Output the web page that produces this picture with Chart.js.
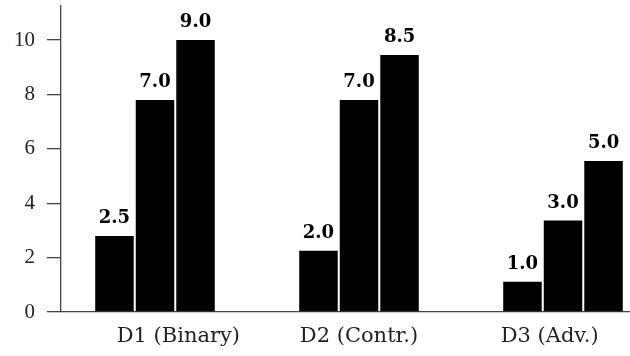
<!DOCTYPE html>
<html>
<head>
<meta charset="utf-8">
<script src="https://cdn.jsdelivr.net/npm/chart.js@4/dist/chart.umd.min.js"></script>
<style>
html,body{margin:0;padding:0;background:#fff;}
#wrap{width:630px;height:356px;position:relative;}
</style>
</head>
<body>
<div id="wrap"><canvas id="c" width="630" height="356"></canvas></div>
<script>
// Categories and tick labels
const categories = ["D1 (Binary)", "D2 (Contr.)", "D3 (Adv.)"];
const categoryTickLabels = ["       D1 (Binary)", "D2 (Contr.)", "D3 (Adv.)    "];
const yTicks = [0, 2, 4, 6, 8, 10];

// Bar heights as drawn
const barsFirst  = [2.79, 2.25, 1.11];
const barsSecond = [7.79, 7.79, 3.36];
const barsThird  = [10.0, 9.45, 5.55];

// Value annotations printed above the bars
const labelsFirst  = ["2.5", "2.0", "1.0"];
const labelsSecond = ["7.0", "7.0", "3.0"];
const labelsThird  = ["9.0", "8.5", "5.0"];

const toPoints = arr => arr.map((v, i) => ({x: i, y: v}));

const valueLabelPlugin = {
  id: 'valueLabels',
  afterDatasetsDraw(chart) {
    const ctx = chart.ctx;
    ctx.save();
    ctx.font = 'bold 18px "DejaVu Serif"';
    ctx.fillStyle = '#000';
    ctx.textAlign = 'center';
    ctx.textBaseline = 'alphabetic';
    chart.data.datasets.forEach((ds, di) => {
      const meta = chart.getDatasetMeta(di);
      meta.data.forEach((el, i) => {
        ctx.fillText(ds.valueLabels[i], el.x, el.y - 13);
      });
    });
    ctx.restore();
  }
};

const noPad = scale => { scale.paddingTop = 0; scale.paddingBottom = 0; scale.paddingLeft = 0; scale.paddingRight = 0; };

new Chart(document.getElementById('c'), {
  type: 'bar',
  data: {
    datasets: [
      {data: toPoints(barsFirst), valueLabels: labelsFirst, backgroundColor: '#000'},
      {data: toPoints(barsSecond), valueLabels: labelsSecond, backgroundColor: '#000'},
      {data: toPoints(barsThird), valueLabels: labelsThird, backgroundColor: '#000'}
    ]
  },
  options: {
    responsive: false,
    animation: false,
    devicePixelRatio: 1,
    layout: {padding: {top: 6, right: 0, left: 0, bottom: 0}},
    plugins: {legend: {display: false}, tooltip: {enabled: false}},
    datasets: {bar: {categoryPercentage: 0.596, barPercentage: 0.95}},
    scales: {
      x: {
        type: 'linear',
        offset: false,
        min: -0.4608,
        max: 2.3284,
        afterBuildTicks: axis => { axis.ticks = categories.map((c, i) => ({value: i})); },
        afterFit: scale => { scale.height = 44; noPad(scale); },
        grid: {display: false, drawTicks: false, offset: false},
        border: {display: true, color: '#444', width: 1.3},
        ticks: {
          padding: 12,
          color: '#222',
          font: {family: '"DejaVu Serif"', size: 21},
          maxRotation: 0,
          autoSkip: false,
          callback: (v) => categoryTickLabels[v] !== undefined ? categoryTickLabels[v] : ''
        }
      },
      y: {
        min: 0,
        max: 11.25,
        afterBuildTicks: axis => { axis.ticks = yTicks.map(v => ({value: v})); },
        afterFit: scale => { scale.width = 61; noPad(scale); },
        grid: {drawOnChartArea: false, drawTicks: true, tickLength: 14, color: '#444', lineWidth: 1.3},
        border: {display: true, color: '#444', width: 1.3},
        ticks: {
          padding: 12,
          color: '#222',
          font: {family: '"Liberation Serif"', size: 21}
        }
      }
    }
  },
  plugins: [valueLabelPlugin]
});
</script>
</body>
</html>
